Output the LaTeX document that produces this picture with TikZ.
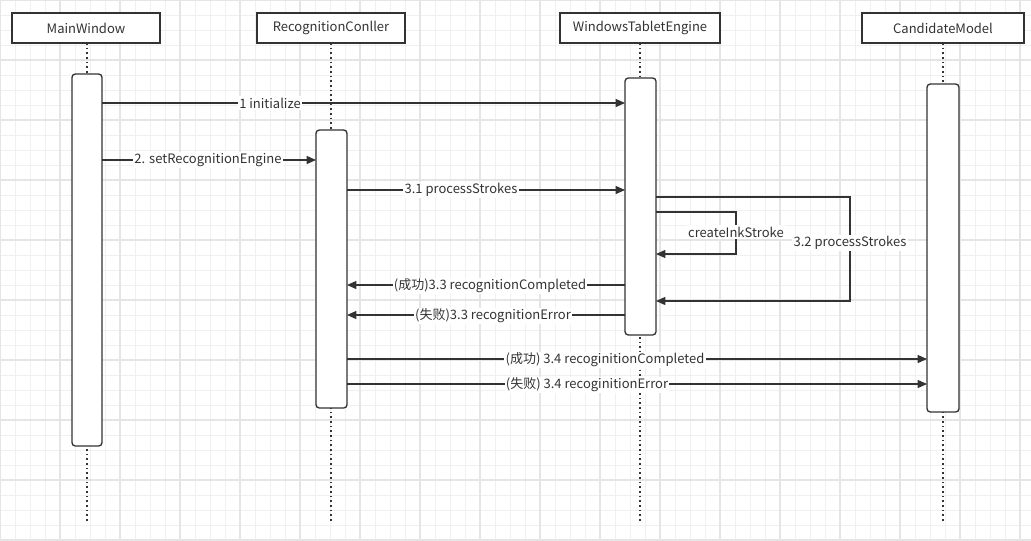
\documentclass[tikz,border=0pt]{standalone}
\usepackage{fontspec}
\setmainfont{Noto Sans CJK SC}
\usetikzlibrary{arrows.meta}
\definecolor{ln}{HTML}{333333}
\begin{document}
\begin{tikzpicture}[x=0.75pt,y=-0.75pt,
  hdr/.style={draw=ln,line width=1pt,fill=white,minimum width=#1*0.75pt,minimum height=22.5pt,inner sep=0pt,font=\fontsize{9.75}{11}\selectfont,text=ln},
  act/.style={draw=ln,line width=1pt,fill=white,rounded corners=2.5pt},
  life/.style={ln,line width=1.3pt,dash pattern=on 1.3pt off 2.2pt},
  msg/.style={ln,line width=1pt,-{Triangle[length=7pt,width=6pt]}},
  lbl/.style={fill=white,inner sep=1pt,font=\fontsize{9.75}{11}\selectfont,text=ln}]
\useasboundingbox (0,0) rectangle (1031,540);
\foreach \i in {0,15,...,1035} \draw[black!6,line width=0.6pt] (\i,0) -- (\i,540);
\foreach \i in {0,15,...,540} \draw[black!6,line width=0.6pt] (0,\i) -- (1031,\i);
\foreach \i in {0,60,...,1035} \draw[black!10,line width=0.8pt] (\i,0) -- (\i,540);
\foreach \i in {0,60,...,540} \draw[black!10,line width=0.8pt] (0,\i) -- (1031,\i);
% lifelines
\foreach \x in {87,331,640,943} \draw[life] (\x,43) -- (\x,522);
\node[hdr=148] (mw) at (86,28) {MainWindow};
\node[hdr=148] (rc) at (331,28) {RecognitionConller};
\node[hdr=160] (wte) at (640,28) {WindowsTabletEngine};
\node[hdr=162] (cm) at (943,28) {CandidateModel};
\draw[act] (72,74) rectangle (102,446);
\draw[act] (316,130) rectangle (347,408);
\draw[act] (625,78) rectangle (656,335);
\draw[act] (927,84) rectangle (959,412);
\coordinate (a1) at (102,103); \coordinate (b1) at (625,103);
\draw[msg] (a1) -- (b1); \node[lbl] (l1) at (270,103) {1 initialize};
\coordinate (a2) at (102,160); \coordinate (b2) at (316,160);
\draw[msg] (a2) -- (b2); \node[lbl] (l2) at (208,160) {2. setRecognitionEngine};
\coordinate (a3) at (347,190); \coordinate (b3) at (625,190);
\draw[msg] (a3) -- (b3); \node[lbl] (l3) at (461,190) {3.1 processStrokes};
\coordinate (s1) at (656,212); \coordinate (s2) at (656,254);
\draw[msg] (s1) -- (736,212) -- (736,254) -- (s2);
\node[lbl] (l4) at (736,232) {createInkStroke};
\coordinate (t1) at (656,197); \coordinate (t2) at (656,301);
\draw[msg] (t1) -- (850,197) -- (850,301) -- (t2);
\node[lbl] (l5) at (850,243) {3.2 processStrokes};
\coordinate (a6) at (625,285); \coordinate (b6) at (347,285);
\draw[msg] (a6) -- (b6); \node[lbl] (l6) at (490,286) {(成功)3.3 recognitionCompleted};
\coordinate (a7) at (625,315); \coordinate (b7) at (347,315);
\draw[msg] (a7) -- (b7); \node[lbl] (l7) at (493,316) {(失败)3.3 recognitionError};
\coordinate (a8) at (347,359); \coordinate (b8) at (927,359);
\draw[msg] (a8) -- (b8); \node[lbl] (l8) at (605,360) {(成功) 3.4 recoginitionCompleted};
\coordinate (a9) at (347,384); \coordinate (b9) at (927,384);
\draw[msg] (a9) -- (b9); \node[lbl] (l9) at (587,385) {(失败) 3.4 recoginitionError};
\end{tikzpicture}
\end{document}
